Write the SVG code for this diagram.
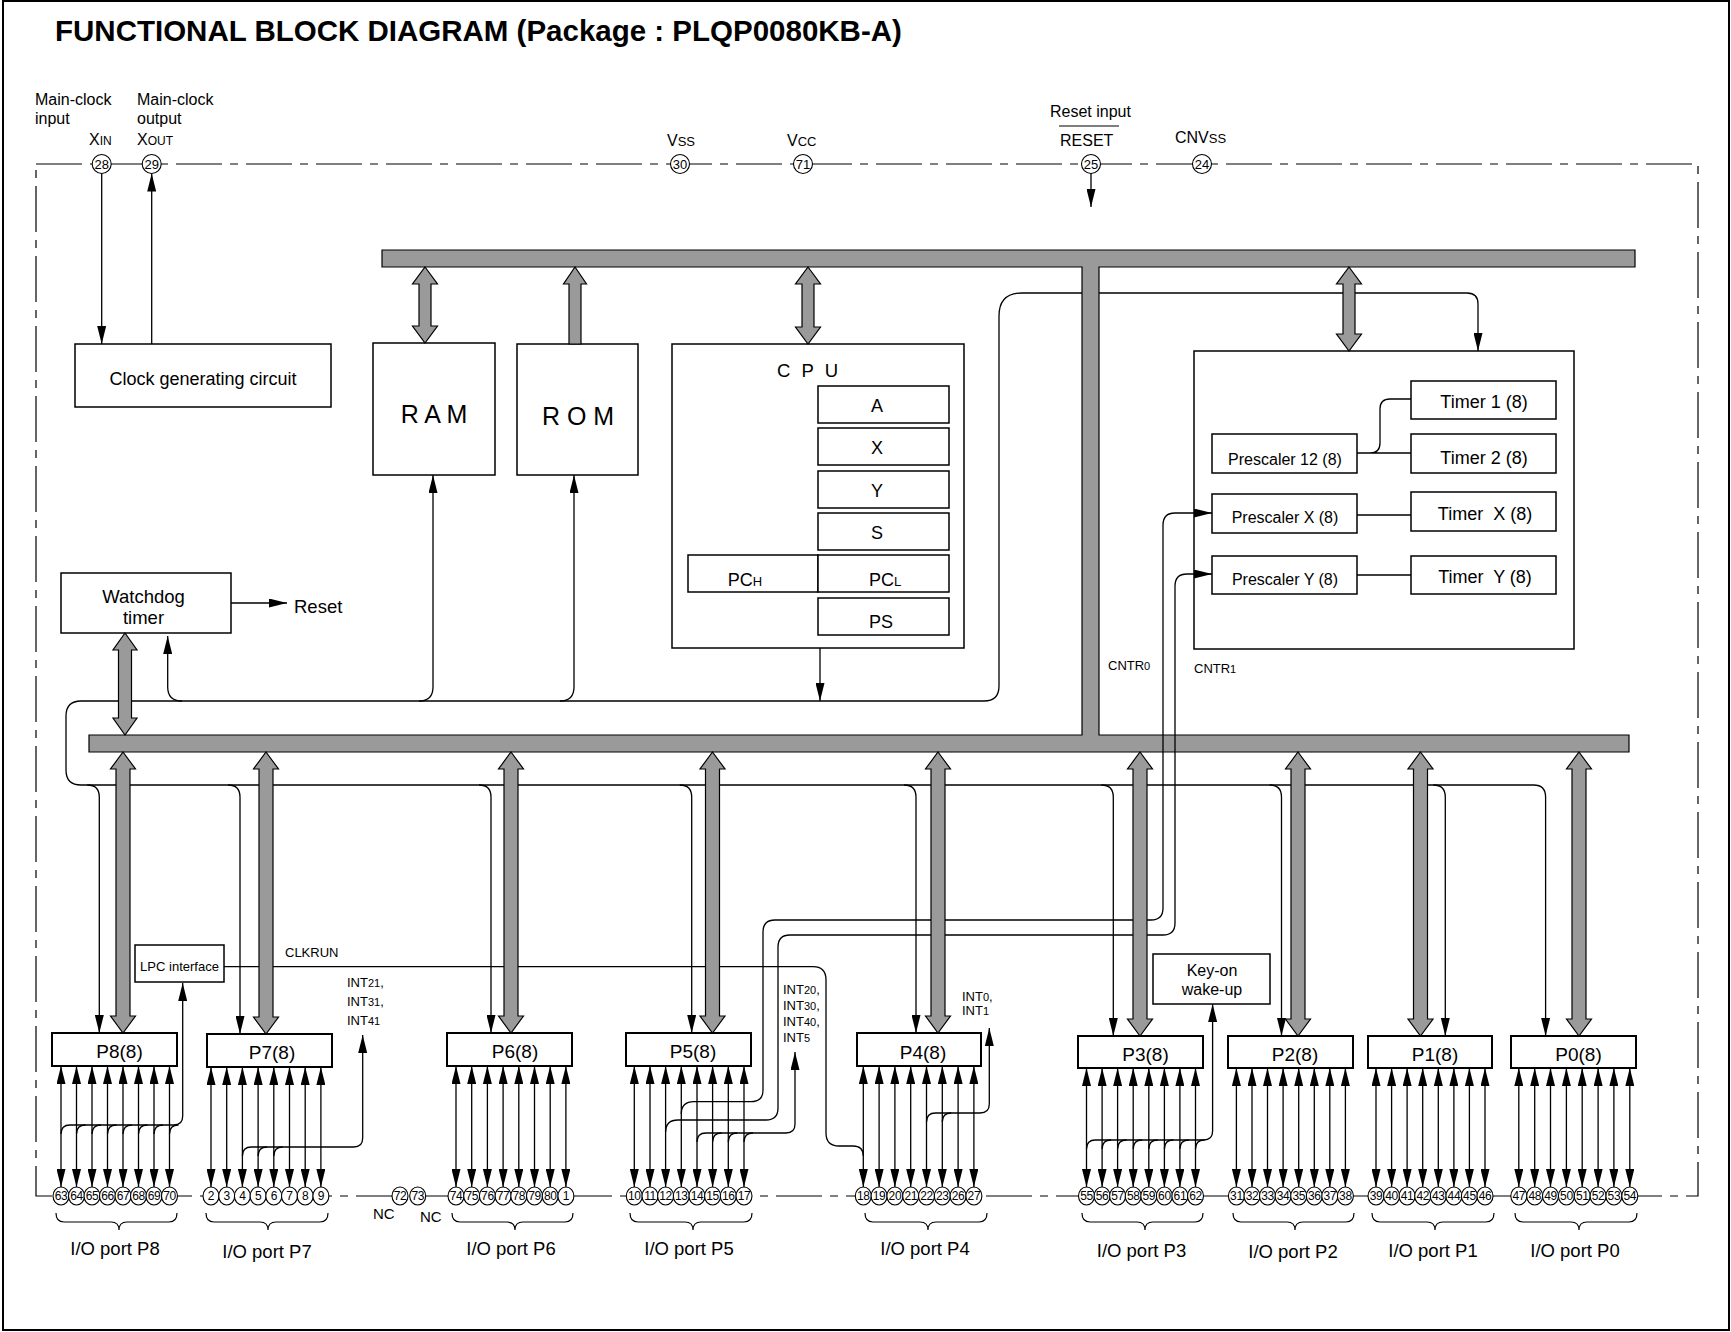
<svg xmlns="http://www.w3.org/2000/svg" width="1731" height="1332" viewBox="0 0 1731 1332">
<defs>
<marker id="ah" viewBox="0 0 18 9" markerWidth="18" markerHeight="9" refX="18" refY="4.5" orient="auto-start-reverse" markerUnits="userSpaceOnUse"><path d="M0,0 L18,4.5 L0,9 Z" fill="#000"/></marker>
<style>
text{font-family:"Liberation Sans",Arial,Helvetica,sans-serif;fill:#000}
.box{fill:#fff;stroke:#000;stroke-width:1.5}
.pbox{fill:#fff;stroke:#000;stroke-width:2}
.ln{fill:none;stroke:#000;stroke-width:1.3}
.ar{fill:none;stroke:#000;stroke-width:1.3;marker-end:url(#ah)}
.bi{fill:none;stroke:#000;stroke-width:1.3;marker-start:url(#ah);marker-end:url(#ah)}
.gray{fill:#9a9a9a;stroke:#000;stroke-width:1.2}
.pin{fill:#fff;stroke:#000;stroke-width:1.1}
.pn{font-size:12px;text-anchor:middle;letter-spacing:-0.4px}
.tp{font-size:13px;text-anchor:middle}
.lbl{font-size:16px}
.mid{text-anchor:middle}
.brace{fill:none;stroke:#000;stroke-width:1.2}
.io{font-size:18.5px;text-anchor:middle}
.sm{font-size:13px}
.reg{font-size:18px;text-anchor:middle}
</style>
</defs>
<rect x="3" y="1" width="1726" height="1329" fill="#fff" stroke="#000" stroke-width="2"/>
<text x="55" y="41" font-size="29.5" font-weight="bold">FUNCTIONAL BLOCK DIAGRAM (Package : PLQP0080KB-A)</text>
<rect x="36" y="164" width="1662" height="1032" fill="none" stroke="#000" stroke-width="1.2" stroke-dasharray="46 8 8 8"/>

<g id="top-labels">
<text class="lbl" x="35" y="105">Main-clock</text>
<text class="lbl" x="35" y="124">input</text>
<text class="lbl" x="89" y="145">X<tspan font-size="12">IN</tspan></text>
<text class="lbl" x="137" y="105">Main-clock</text>
<text class="lbl" x="137" y="124">output</text>
<text class="lbl" x="137" y="145">X<tspan font-size="12">OUT</tspan></text>
<text class="lbl" x="667" y="146">V<tspan font-size="13">SS</tspan></text>
<text class="lbl" x="787" y="146">V<tspan font-size="13">CC</tspan></text>
<text class="lbl" x="1050" y="117">Reset input</text>
<line x1="1059" y1="126" x2="1119" y2="126" stroke="#000" stroke-width="1.2"/>
<text class="lbl" x="1060" y="146">RESET</text>
<text class="lbl" x="1175" y="143">CNV<tspan font-size="13">SS</tspan></text>
</g>

<g id="top-pins">
<circle class="pin" cx="101.7" cy="164" r="9.5"/><text class="tp" x="101.7" y="168.5">28</text>
<circle class="pin" cx="151.7" cy="164" r="9.5"/><text class="tp" x="151.7" y="168.5">29</text>
<circle class="pin" cx="680" cy="164" r="9.5"/><text class="tp" x="680" y="168.5">30</text>
<circle class="pin" cx="803" cy="164" r="9.5"/><text class="tp" x="803" y="168.5">71</text>
<circle class="pin" cx="1091" cy="164" r="9.5"/><text class="tp" x="1091" y="168.5">25</text>
<circle class="pin" cx="1202" cy="164" r="9.5"/><text class="tp" x="1202" y="168.5">24</text>
</g>

<g id="clock">
<rect class="box" x="75" y="344" width="256" height="63"/>
<text x="203" y="385" font-size="18" class="mid">Clock generating circuit</text>
</g>
<g id="ram">
<rect class="box" x="373" y="343" width="122" height="132"/>
<text x="434" y="423" font-size="25" class="mid">R A M</text>
</g>
<g id="rom">
<rect class="box" x="517" y="344" width="121" height="131"/>
<text x="578" y="425" font-size="25" class="mid">R O M</text>
</g>
<g id="cpu">
<rect class="box" x="672" y="344" width="292" height="304"/>
<text x="777" y="377" font-size="18.5" letter-spacing="3">C P U</text>
<rect class="box" x="818" y="386" width="131" height="37"/><text x="877" y="412" class="reg">A</text>
<rect class="box" x="818" y="428" width="131" height="37"/><text x="877" y="454" class="reg">X</text>
<rect class="box" x="818" y="471" width="131" height="37"/><text x="877" y="497" class="reg">Y</text>
<rect class="box" x="818" y="513" width="131" height="37"/><text x="877" y="539" class="reg">S</text>
<rect class="box" x="688" y="555" width="130" height="37"/><text x="745" y="586" class="reg">PC<tspan font-size="13">H</tspan></text>
<rect class="box" x="818" y="555" width="131" height="37"/><text x="885" y="586" class="reg">PC<tspan font-size="13">L</tspan></text>
<rect class="box" x="818" y="598" width="131" height="37"/><text x="881" y="628" class="reg">PS</text>
</g>
<g id="watchdog">
<rect class="box" x="61" y="573" width="170" height="60"/>
<text x="143.5" y="603" font-size="18.5" class="mid">Watchdog</text>
<text x="143.5" y="624" font-size="18.5" class="mid">timer</text>
<text x="294" y="613" font-size="18.5">Reset</text>
</g>
<g id="timers">
<rect class="box" x="1194" y="351" width="380" height="298"/>
<rect class="box" x="1411" y="381" width="145" height="38"/><text x="1484" y="408" font-size="18" class="mid">Timer 1 (8)</text>
<rect class="box" x="1411" y="434" width="145" height="39"/><text x="1484" y="464" font-size="18" class="mid">Timer 2 (8)</text>
<rect class="box" x="1212" y="434" width="145" height="39"/><text x="1285" y="465" font-size="16" class="mid">Prescaler 12 (8)</text>
<rect class="box" x="1212" y="494" width="145" height="39"/><text x="1285" y="523" font-size="16" class="mid">Prescaler X (8)</text>
<rect class="box" x="1411" y="492" width="145" height="39"/><text x="1485" y="520" font-size="18" class="mid" xml:space="preserve">Timer  X (8)</text>
<rect class="box" x="1212" y="556" width="145" height="38"/><text x="1285" y="585" font-size="16" class="mid">Prescaler Y (8)</text>
<rect class="box" x="1411" y="556" width="145" height="38"/><text x="1485" y="583" font-size="18" class="mid" xml:space="preserve">Timer  Y (8)</text>
<text x="1108" y="670" class="sm">CNTR<tspan font-size="11">0</tspan></text>
<text x="1194" y="673" class="sm">CNTR<tspan font-size="11">1</tspan></text>
</g>
<g id="lpc">
<rect class="box" x="135" y="945" width="89" height="37"/>
<text x="179.5" y="971" font-size="13" class="mid">LPC interface</text>
<text x="285" y="957" font-size="13">CLKRUN</text>
</g>
<g id="keyon">
<rect class="box" x="1153" y="954" width="117" height="50"/>
<text x="1212" y="976" font-size="16" class="mid">Key-on</text>
<text x="1212" y="995" font-size="16" class="mid">wake-up</text>
</g>
<g id="int-labels">
<text x="347" y="987" class="sm">INT<tspan font-size="11">21</tspan>,</text>
<text x="347" y="1006" class="sm">INT<tspan font-size="11">31</tspan>,</text>
<text x="347" y="1025" class="sm">INT<tspan font-size="11">41</tspan></text>
<text x="783" y="994" class="sm">INT<tspan font-size="11">20</tspan>,</text>
<text x="783" y="1010" class="sm">INT<tspan font-size="11">30</tspan>,</text>
<text x="783" y="1026" class="sm">INT<tspan font-size="11">40</tspan>,</text>
<text x="783" y="1042" class="sm">INT<tspan font-size="11">5</tspan></text>
<text x="962" y="1001" class="sm">INT<tspan font-size="11">0</tspan>,</text>
<text x="962" y="1015" class="sm">INT<tspan font-size="11">1</tspan></text>
</g>

<g id="ports">
<g id="P8"><rect class="pbox" x="52" y="1033" width="125" height="33"/><text x="119.5" y="1058" font-size="19" class="mid">P8(8)</text></g>
<g id="P7"><rect class="pbox" x="207" y="1034" width="125" height="33"/><text x="272" y="1059" font-size="19" class="mid">P7(8)</text></g>
<g id="P6"><rect class="pbox" x="447" y="1033" width="125" height="33"/><text x="515" y="1058" font-size="19" class="mid">P6(8)</text></g>
<g id="P5"><rect class="pbox" x="626" y="1033" width="125" height="33"/><text x="693" y="1058" font-size="19" class="mid">P5(8)</text></g>
<g id="P4"><rect class="pbox" x="857" y="1033" width="124" height="33"/><text x="923" y="1059" font-size="19" class="mid">P4(8)</text></g>
<g id="P3"><rect class="pbox" x="1078" y="1036" width="125" height="32"/><text x="1145.5" y="1061" font-size="19" class="mid">P3(8)</text></g>
<g id="P2"><rect class="pbox" x="1228" y="1036" width="125" height="32"/><text x="1295" y="1061" font-size="19" class="mid">P2(8)</text></g>
<g id="P1"><rect class="pbox" x="1368" y="1036" width="124" height="32"/><text x="1435" y="1061" font-size="19" class="mid">P1(8)</text></g>
<g id="P0"><rect class="pbox" x="1511" y="1036" width="125" height="32"/><text x="1578.5" y="1061" font-size="19" class="mid">P0(8)</text></g>
</g>

<g id="connectors">
<path class="ar" d="M101.7,173.5V344"/>
<path class="ar" d="M151.7,344V173.5"/>
<path class="ar" d="M1091,173.5V207"/>
<path class="ar" d="M231,603H287"/>
<path class="ar" d="M66,770V716Q66,701 81,701H984Q999,701 999,686V316Q999,293 1022,293H1467Q1478,293 1478,304V351"/>
<path class="ar" d="M66,770Q66,785 81,785H1533.6Q1545.6,785 1545.6,797V1036"/>
<path class="ar" d="M182,701Q167.7,701 167.7,687V636"/>
<path class="ar" d="M419,701Q433,701 433,687V475"/>
<path class="ar" d="M560,701Q574,701 574,687V475"/>
<path class="ar" d="M820,648V701"/>
<path class="ar" d="M87.3,785Q99.3,785 99.3,797V1033"/>
<path class="ar" d="M228,785Q240,785 240,797V1034"/>
<path class="ar" d="M479,785Q491,785 491,797V1033"/>
<path class="ar" d="M679.7,785Q691.7,785 691.7,797V1033"/>
<path class="ar" d="M904,785Q916,785 916,797V1033"/>
<path class="ar" d="M1101.3,785Q1113.3,785 1113.3,797V1036"/>
<path class="ar" d="M1269.5,785Q1281.5,785 1281.5,797V1036"/>
<path class="ar" d="M1433.3,785Q1445.3,785 1445.3,797V1036"/>
<path class="ln" d="M1357,453H1411M1370,453Q1380,453 1380,443V409Q1380,399 1390,399H1411M1357,515H1411M1357,575H1411"/>
<path class="ln" d="M224,966.7H813Q826,966.7 826,980V1133Q826,1146 839,1146H853Q863.3,1146 863.3,1156"/>
<path class="ar" d="M61,1134Q61,1125 70,1125H173.7Q182.7,1125 182.7,1116V983"/>
<path class="ln" d="M76.5,1134Q76.5,1125 85.5,1125M92,1134Q92,1125 101,1125M107.5,1134Q107.5,1125 116.5,1125M123,1134Q123,1125 132,1125M138.5,1134Q138.5,1125 147.5,1125M154,1134Q154,1125 163,1125M169.5,1134Q169.5,1125 178.5,1125"/>
<path class="ar" d="M242.4,1156Q242.4,1147 251.4,1147H353.7Q362.7,1147 362.7,1138V1035"/>
<path class="ln" d="M258.1,1156Q258.1,1147 267.1,1147M273.8,1156Q273.8,1147 282.8,1147"/>
<path class="ar" d="M697,1142Q697,1133 706,1133H786Q795,1133 795,1124V1052"/>
<path class="ln" d="M712.6,1142Q712.6,1133 721.6,1133M728.3,1142Q728.3,1133 737.3,1133M744,1142Q744,1133 753,1133"/>
<path class="ar" d="M926.5,1122Q926.5,1113 935.5,1113H980Q989.3,1113 989.3,1104V1028"/>
<path class="ln" d="M942.3,1122Q942.3,1113 951.3,1113"/>
<path class="ar" d="M1086.5,1149Q1086.5,1140 1095.5,1140H1203.6Q1212.6,1140 1212.6,1131V1004"/>
<path class="ln" d="M1102.1,1149Q1102.1,1140 1111.1,1140M1117.6,1149Q1117.6,1140 1126.6,1140M1133.2,1149Q1133.2,1140 1142.2,1140M1148.8,1149Q1148.8,1140 1157.8,1140M1164.4,1149Q1164.4,1140 1173.4,1140M1179.9,1149Q1179.9,1140 1188.9,1140M1195.5,1149Q1195.5,1140 1204.5,1140"/>

<g id="pin-lines">
<line class="bi" x1="61" y1="1066" x2="61" y2="1187"/><line class="bi" x1="76.5" y1="1066" x2="76.5" y2="1187"/><line class="bi" x1="92" y1="1066" x2="92" y2="1187"/><line class="bi" x1="107.5" y1="1066" x2="107.5" y2="1187"/><line class="bi" x1="123" y1="1066" x2="123" y2="1187"/><line class="bi" x1="138.5" y1="1066" x2="138.5" y2="1187"/><line class="bi" x1="154" y1="1066" x2="154" y2="1187"/><line class="bi" x1="169.5" y1="1066" x2="169.5" y2="1187"/>
<line class="bi" x1="211" y1="1067" x2="211" y2="1187"/><line class="bi" x1="226.7" y1="1067" x2="226.7" y2="1187"/><line class="bi" x1="242.4" y1="1067" x2="242.4" y2="1187"/><line class="bi" x1="258.1" y1="1067" x2="258.1" y2="1187"/><line class="bi" x1="273.8" y1="1067" x2="273.8" y2="1187"/><line class="bi" x1="289.5" y1="1067" x2="289.5" y2="1187"/><line class="bi" x1="305.2" y1="1067" x2="305.2" y2="1187"/><line class="bi" x1="320.9" y1="1067" x2="320.9" y2="1187"/>
<line class="bi" x1="456" y1="1066" x2="456" y2="1187"/><line class="bi" x1="471.7" y1="1066" x2="471.7" y2="1187"/><line class="bi" x1="487.4" y1="1066" x2="487.4" y2="1187"/><line class="bi" x1="503.1" y1="1066" x2="503.1" y2="1187"/><line class="bi" x1="518.8" y1="1066" x2="518.8" y2="1187"/><line class="bi" x1="534.5" y1="1066" x2="534.5" y2="1187"/><line class="bi" x1="550.2" y1="1066" x2="550.2" y2="1187"/><line class="bi" x1="565.9" y1="1066" x2="565.9" y2="1187"/>
<line class="bi" x1="634.3" y1="1066" x2="634.3" y2="1187"/><line class="bi" x1="650" y1="1066" x2="650" y2="1187"/><line class="bi" x1="665.6" y1="1066" x2="665.6" y2="1187"/><line class="bi" x1="681.3" y1="1066" x2="681.3" y2="1187"/><line class="bi" x1="697" y1="1066" x2="697" y2="1187"/><line class="bi" x1="712.6" y1="1066" x2="712.6" y2="1187"/><line class="bi" x1="728.3" y1="1066" x2="728.3" y2="1187"/><line class="bi" x1="744" y1="1066" x2="744" y2="1187"/>
<line class="bi" x1="863.3" y1="1066" x2="863.3" y2="1187"/><line class="bi" x1="879.1" y1="1066" x2="879.1" y2="1187"/><line class="bi" x1="894.9" y1="1066" x2="894.9" y2="1187"/><line class="bi" x1="910.7" y1="1066" x2="910.7" y2="1187"/><line class="bi" x1="926.5" y1="1066" x2="926.5" y2="1187"/><line class="bi" x1="942.3" y1="1066" x2="942.3" y2="1187"/><line class="bi" x1="958.1" y1="1066" x2="958.1" y2="1187"/><line class="bi" x1="973.9" y1="1066" x2="973.9" y2="1187"/>
<line class="bi" x1="1086.5" y1="1068" x2="1086.5" y2="1187"/><line class="bi" x1="1102.1" y1="1068" x2="1102.1" y2="1187"/><line class="bi" x1="1117.6" y1="1068" x2="1117.6" y2="1187"/><line class="bi" x1="1133.2" y1="1068" x2="1133.2" y2="1187"/><line class="bi" x1="1148.8" y1="1068" x2="1148.8" y2="1187"/><line class="bi" x1="1164.4" y1="1068" x2="1164.4" y2="1187"/><line class="bi" x1="1179.9" y1="1068" x2="1179.9" y2="1187"/><line class="bi" x1="1195.5" y1="1068" x2="1195.5" y2="1187"/>
<line class="bi" x1="1236.4" y1="1068" x2="1236.4" y2="1187"/><line class="bi" x1="1252" y1="1068" x2="1252" y2="1187"/><line class="bi" x1="1267.5" y1="1068" x2="1267.5" y2="1187"/><line class="bi" x1="1283.1" y1="1068" x2="1283.1" y2="1187"/><line class="bi" x1="1298.7" y1="1068" x2="1298.7" y2="1187"/><line class="bi" x1="1314.3" y1="1068" x2="1314.3" y2="1187"/><line class="bi" x1="1329.8" y1="1068" x2="1329.8" y2="1187"/><line class="bi" x1="1345.4" y1="1068" x2="1345.4" y2="1187"/>
<line class="bi" x1="1376" y1="1068" x2="1376" y2="1187"/><line class="bi" x1="1391.6" y1="1068" x2="1391.6" y2="1187"/><line class="bi" x1="1407.1" y1="1068" x2="1407.1" y2="1187"/><line class="bi" x1="1422.7" y1="1068" x2="1422.7" y2="1187"/><line class="bi" x1="1438.3" y1="1068" x2="1438.3" y2="1187"/><line class="bi" x1="1453.9" y1="1068" x2="1453.9" y2="1187"/><line class="bi" x1="1469.4" y1="1068" x2="1469.4" y2="1187"/><line class="bi" x1="1485" y1="1068" x2="1485" y2="1187"/>
<line class="bi" x1="1518.8" y1="1068" x2="1518.8" y2="1187"/><line class="bi" x1="1534.7" y1="1068" x2="1534.7" y2="1187"/><line class="bi" x1="1550.5" y1="1068" x2="1550.5" y2="1187"/><line class="bi" x1="1566.4" y1="1068" x2="1566.4" y2="1187"/><line class="bi" x1="1582.2" y1="1068" x2="1582.2" y2="1187"/><line class="bi" x1="1598.1" y1="1068" x2="1598.1" y2="1187"/><line class="bi" x1="1613.9" y1="1068" x2="1613.9" y2="1187"/><line class="bi" x1="1629.8" y1="1068" x2="1629.8" y2="1187"/>
</g>

<path id="bus" class="gray" d="M382,250H1635V267H1099V735H1629V752H89V735H1082V267H382Z"/>

<path class="ar" d="M681.3,1114Q681.3,1101.7 694,1101.7H751Q763,1101.7 763,1090V932Q763,920 775,920H1151Q1163,920 1163,908V525Q1163,513 1175,513H1212"/>
<path class="ar" d="M665.6,1132Q665.6,1120 678,1120H766Q778,1120 778,1108V947Q778,935 790,935H1163Q1175,935 1175,923V586Q1175,574 1187,574H1212"/>

<g id="wide-arrows">
<path class="gray" d="M425,267L437.5,284H431V326H437.5L425,343L412.5,326H419V284H412.5Z"/>
<path class="gray" d="M575,267L586.5,284H581V344H569V284H563.5Z"/>
<path class="gray" d="M808,267L820.5,284H814V327H820.5L808,344L795.5,327H802V284H795.5Z"/>
<path class="gray" d="M1349,267L1361.5,284H1355V334H1361.5L1349,351L1336.5,334H1343V284H1336.5Z"/>
<path class="gray" d="M125,633L137,650H131.5V718H137L125,735L113,718H118.5V650H113Z"/>
<path class="gray" d="M123,752L135.5,769H130V1016H135.5L123,1033L110.5,1016H116V769H110.5Z"/>
<path class="gray" d="M266,752L278.5,769H273V1017H278.5L266,1034L253.5,1017H259V769H253.5Z"/>
<path class="gray" d="M511,752L523.5,769H518V1016H523.5L511,1033L498.5,1016H504V769H498.5Z"/>
<path class="gray" d="M712.5,752L725,769H719.5V1016H725L712.5,1033L700,1016H705.5V769H700Z"/>
<path class="gray" d="M938,752L950.5,769H945V1016H950.5L938,1033L925.5,1016H931V769H925.5Z"/>
<path class="gray" d="M1140,752L1152.5,769H1147V1019H1152.5L1140,1036L1127.5,1019H1133V769H1127.5Z"/>
<path class="gray" d="M1298,752L1310.5,769H1305V1019H1310.5L1298,1036L1285.5,1019H1291V769H1285.5Z"/>
<path class="gray" d="M1420.5,752L1433,769H1427.5V1019H1433L1420.5,1036L1408,1019H1413.5V769H1408Z"/>
<path class="gray" d="M1579,752L1591.5,769H1586V1019H1591.5L1579,1036L1566.5,1019H1572V769H1566.5Z"/>
</g>
</g>

<g id="pins">
<ellipse class="pin" cx="61" cy="1196" rx="8" ry="9"/><text class="pn" x="61" y="1200">63</text>
<ellipse class="pin" cx="76.5" cy="1196" rx="8" ry="9"/><text class="pn" x="76.5" y="1200">64</text>
<ellipse class="pin" cx="92" cy="1196" rx="8" ry="9"/><text class="pn" x="92" y="1200">65</text>
<ellipse class="pin" cx="107.5" cy="1196" rx="8" ry="9"/><text class="pn" x="107.5" y="1200">66</text>
<ellipse class="pin" cx="123" cy="1196" rx="8" ry="9"/><text class="pn" x="123" y="1200">67</text>
<ellipse class="pin" cx="138.5" cy="1196" rx="8" ry="9"/><text class="pn" x="138.5" y="1200">68</text>
<ellipse class="pin" cx="154" cy="1196" rx="8" ry="9"/><text class="pn" x="154" y="1200">69</text>
<ellipse class="pin" cx="169.5" cy="1196" rx="8" ry="9"/><text class="pn" x="169.5" y="1200">70</text>
<ellipse class="pin" cx="211" cy="1196" rx="8" ry="9"/><text class="pn" x="211" y="1200">2</text>
<ellipse class="pin" cx="226.7" cy="1196" rx="8" ry="9"/><text class="pn" x="226.7" y="1200">3</text>
<ellipse class="pin" cx="242.4" cy="1196" rx="8" ry="9"/><text class="pn" x="242.4" y="1200">4</text>
<ellipse class="pin" cx="258.1" cy="1196" rx="8" ry="9"/><text class="pn" x="258.1" y="1200">5</text>
<ellipse class="pin" cx="273.8" cy="1196" rx="8" ry="9"/><text class="pn" x="273.8" y="1200">6</text>
<ellipse class="pin" cx="289.5" cy="1196" rx="8" ry="9"/><text class="pn" x="289.5" y="1200">7</text>
<ellipse class="pin" cx="305.2" cy="1196" rx="8" ry="9"/><text class="pn" x="305.2" y="1200">8</text>
<ellipse class="pin" cx="320.9" cy="1196" rx="8" ry="9"/><text class="pn" x="320.9" y="1200">9</text>
<ellipse class="pin" cx="400" cy="1196" rx="8" ry="9"/><text class="pn" x="400" y="1200">72</text>
<ellipse class="pin" cx="417.7" cy="1196" rx="8" ry="9"/><text class="pn" x="417.7" y="1200">73</text>
<ellipse class="pin" cx="456" cy="1196" rx="8" ry="9"/><text class="pn" x="456" y="1200">74</text>
<ellipse class="pin" cx="471.7" cy="1196" rx="8" ry="9"/><text class="pn" x="471.7" y="1200">75</text>
<ellipse class="pin" cx="487.4" cy="1196" rx="8" ry="9"/><text class="pn" x="487.4" y="1200">76</text>
<ellipse class="pin" cx="503.1" cy="1196" rx="8" ry="9"/><text class="pn" x="503.1" y="1200">77</text>
<ellipse class="pin" cx="518.8" cy="1196" rx="8" ry="9"/><text class="pn" x="518.8" y="1200">78</text>
<ellipse class="pin" cx="534.5" cy="1196" rx="8" ry="9"/><text class="pn" x="534.5" y="1200">79</text>
<ellipse class="pin" cx="550.2" cy="1196" rx="8" ry="9"/><text class="pn" x="550.2" y="1200">80</text>
<ellipse class="pin" cx="565.9" cy="1196" rx="8" ry="9"/><text class="pn" x="565.9" y="1200">1</text>
<ellipse class="pin" cx="634.3" cy="1196" rx="8" ry="9"/><text class="pn" x="634.3" y="1200">10</text>
<ellipse class="pin" cx="650" cy="1196" rx="8" ry="9"/><text class="pn" x="650" y="1200">11</text>
<ellipse class="pin" cx="665.6" cy="1196" rx="8" ry="9"/><text class="pn" x="665.6" y="1200">12</text>
<ellipse class="pin" cx="681.3" cy="1196" rx="8" ry="9"/><text class="pn" x="681.3" y="1200">13</text>
<ellipse class="pin" cx="697" cy="1196" rx="8" ry="9"/><text class="pn" x="697" y="1200">14</text>
<ellipse class="pin" cx="712.6" cy="1196" rx="8" ry="9"/><text class="pn" x="712.6" y="1200">15</text>
<ellipse class="pin" cx="728.3" cy="1196" rx="8" ry="9"/><text class="pn" x="728.3" y="1200">16</text>
<ellipse class="pin" cx="744" cy="1196" rx="8" ry="9"/><text class="pn" x="744" y="1200">17</text>
<ellipse class="pin" cx="863.3" cy="1196" rx="8" ry="9"/><text class="pn" x="863.3" y="1200">18</text>
<ellipse class="pin" cx="879.1" cy="1196" rx="8" ry="9"/><text class="pn" x="879.1" y="1200">19</text>
<ellipse class="pin" cx="894.9" cy="1196" rx="8" ry="9"/><text class="pn" x="894.9" y="1200">20</text>
<ellipse class="pin" cx="910.7" cy="1196" rx="8" ry="9"/><text class="pn" x="910.7" y="1200">21</text>
<ellipse class="pin" cx="926.5" cy="1196" rx="8" ry="9"/><text class="pn" x="926.5" y="1200">22</text>
<ellipse class="pin" cx="942.3" cy="1196" rx="8" ry="9"/><text class="pn" x="942.3" y="1200">23</text>
<ellipse class="pin" cx="958.1" cy="1196" rx="8" ry="9"/><text class="pn" x="958.1" y="1200">26</text>
<ellipse class="pin" cx="973.9" cy="1196" rx="8" ry="9"/><text class="pn" x="973.9" y="1200">27</text>
<ellipse class="pin" cx="1086.5" cy="1196" rx="8" ry="9"/><text class="pn" x="1086.5" y="1200">55</text>
<ellipse class="pin" cx="1102.1" cy="1196" rx="8" ry="9"/><text class="pn" x="1102.1" y="1200">56</text>
<ellipse class="pin" cx="1117.6" cy="1196" rx="8" ry="9"/><text class="pn" x="1117.6" y="1200">57</text>
<ellipse class="pin" cx="1133.2" cy="1196" rx="8" ry="9"/><text class="pn" x="1133.2" y="1200">58</text>
<ellipse class="pin" cx="1148.8" cy="1196" rx="8" ry="9"/><text class="pn" x="1148.8" y="1200">59</text>
<ellipse class="pin" cx="1164.4" cy="1196" rx="8" ry="9"/><text class="pn" x="1164.4" y="1200">60</text>
<ellipse class="pin" cx="1179.9" cy="1196" rx="8" ry="9"/><text class="pn" x="1179.9" y="1200">61</text>
<ellipse class="pin" cx="1195.5" cy="1196" rx="8" ry="9"/><text class="pn" x="1195.5" y="1200">62</text>
<ellipse class="pin" cx="1236.4" cy="1196" rx="8" ry="9"/><text class="pn" x="1236.4" y="1200">31</text>
<ellipse class="pin" cx="1252" cy="1196" rx="8" ry="9"/><text class="pn" x="1252" y="1200">32</text>
<ellipse class="pin" cx="1267.5" cy="1196" rx="8" ry="9"/><text class="pn" x="1267.5" y="1200">33</text>
<ellipse class="pin" cx="1283.1" cy="1196" rx="8" ry="9"/><text class="pn" x="1283.1" y="1200">34</text>
<ellipse class="pin" cx="1298.7" cy="1196" rx="8" ry="9"/><text class="pn" x="1298.7" y="1200">35</text>
<ellipse class="pin" cx="1314.3" cy="1196" rx="8" ry="9"/><text class="pn" x="1314.3" y="1200">36</text>
<ellipse class="pin" cx="1329.8" cy="1196" rx="8" ry="9"/><text class="pn" x="1329.8" y="1200">37</text>
<ellipse class="pin" cx="1345.4" cy="1196" rx="8" ry="9"/><text class="pn" x="1345.4" y="1200">38</text>
<ellipse class="pin" cx="1376" cy="1196" rx="8" ry="9"/><text class="pn" x="1376" y="1200">39</text>
<ellipse class="pin" cx="1391.6" cy="1196" rx="8" ry="9"/><text class="pn" x="1391.6" y="1200">40</text>
<ellipse class="pin" cx="1407.1" cy="1196" rx="8" ry="9"/><text class="pn" x="1407.1" y="1200">41</text>
<ellipse class="pin" cx="1422.7" cy="1196" rx="8" ry="9"/><text class="pn" x="1422.7" y="1200">42</text>
<ellipse class="pin" cx="1438.3" cy="1196" rx="8" ry="9"/><text class="pn" x="1438.3" y="1200">43</text>
<ellipse class="pin" cx="1453.9" cy="1196" rx="8" ry="9"/><text class="pn" x="1453.9" y="1200">44</text>
<ellipse class="pin" cx="1469.4" cy="1196" rx="8" ry="9"/><text class="pn" x="1469.4" y="1200">45</text>
<ellipse class="pin" cx="1485" cy="1196" rx="8" ry="9"/><text class="pn" x="1485" y="1200">46</text>
<ellipse class="pin" cx="1518.8" cy="1196" rx="8" ry="9"/><text class="pn" x="1518.8" y="1200">47</text>
<ellipse class="pin" cx="1534.7" cy="1196" rx="8" ry="9"/><text class="pn" x="1534.7" y="1200">48</text>
<ellipse class="pin" cx="1550.5" cy="1196" rx="8" ry="9"/><text class="pn" x="1550.5" y="1200">49</text>
<ellipse class="pin" cx="1566.4" cy="1196" rx="8" ry="9"/><text class="pn" x="1566.4" y="1200">50</text>
<ellipse class="pin" cx="1582.2" cy="1196" rx="8" ry="9"/><text class="pn" x="1582.2" y="1200">51</text>
<ellipse class="pin" cx="1598.1" cy="1196" rx="8" ry="9"/><text class="pn" x="1598.1" y="1200">52</text>
<ellipse class="pin" cx="1613.9" cy="1196" rx="8" ry="9"/><text class="pn" x="1613.9" y="1200">53</text>
<ellipse class="pin" cx="1629.8" cy="1196" rx="8" ry="9"/><text class="pn" x="1629.8" y="1200">54</text>
<text x="373" y="1219" font-size="15">NC</text>
<text x="420" y="1222" font-size="15">NC</text>
</g>

<g id="port-labels">
<path class="brace" d="M56,1213Q56,1222 64,1222H111Q119,1222 119,1230Q119,1222 127,1222H169Q177,1222 177,1213"/>
<path class="brace" d="M206,1213Q206,1222 214,1222H260Q268,1222 268,1230Q268,1222 276,1222H320Q328,1222 328,1213"/>
<path class="brace" d="M452,1213Q452,1222 460,1222H507Q515,1222 515,1230Q515,1222 523,1222H565Q573,1222 573,1213"/>
<path class="brace" d="M630,1213Q630,1222 638,1222H685Q693,1222 693,1230Q693,1222 701,1222H744Q752,1222 752,1213"/>
<path class="brace" d="M865,1213Q865,1222 873,1222H920Q928,1222 928,1230Q928,1222 936,1222H979Q987,1222 987,1213"/>
<path class="brace" d="M1082,1213Q1082,1222 1090,1222H1137Q1145,1222 1145,1230Q1145,1222 1153,1222H1195Q1203,1222 1203,1213"/>
<path class="brace" d="M1233,1213Q1233,1222 1241,1222H1287Q1295,1222 1295,1230Q1295,1222 1303,1222H1346Q1354,1222 1354,1213"/>
<path class="brace" d="M1372,1213Q1372,1222 1380,1222H1427Q1435,1222 1435,1230Q1435,1222 1443,1222H1486Q1494,1222 1494,1213"/>
<path class="brace" d="M1515,1213Q1515,1222 1523,1222H1571Q1579,1222 1579,1230Q1579,1222 1587,1222H1629Q1637,1222 1637,1213"/>
<text class="io" x="115" y="1255">I/O port P8</text>
<text class="io" x="267" y="1258">I/O port P7</text>
<text class="io" x="511" y="1255">I/O port P6</text>
<text class="io" x="689" y="1255">I/O port P5</text>
<text class="io" x="925" y="1255">I/O port P4</text>
<text class="io" x="1141.5" y="1257">I/O port P3</text>
<text class="io" x="1293" y="1258">I/O port P2</text>
<text class="io" x="1433" y="1257">I/O port P1</text>
<text class="io" x="1575" y="1257">I/O port P0</text>
</g>
</svg>
